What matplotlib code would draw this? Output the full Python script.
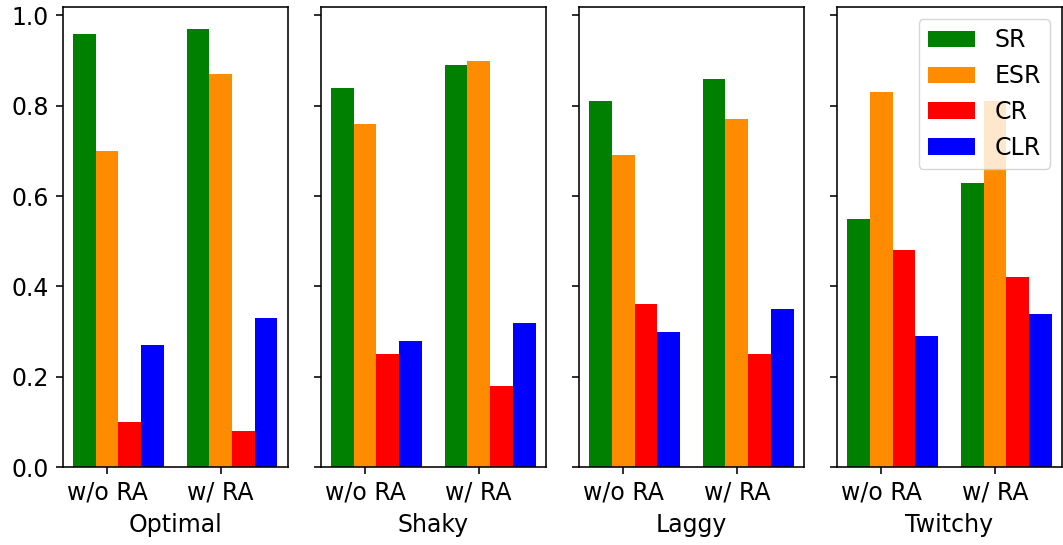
import numpy as np
import matplotlib
matplotlib.use("Agg")
import matplotlib.pyplot as plt

# data
settings = ["Optimal", "Shaky", "Laggy", "Twitchy"]
groups = ["w/o RA", "w/ RA"]
metrics = ["SR", "ESR", "CR", "CLR"]
colors = ["green", "darkorange", "red", "blue"]

sr = [[0.96, 0.97], [0.84, 0.89], [0.81, 0.86], [0.55, 0.63]]
esr = [[0.70, 0.87], [0.76, 0.90], [0.69, 0.77], [0.83, 0.81]]
cr = [[0.10, 0.08], [0.25, 0.18], [0.36, 0.25], [0.48, 0.42]]
clr = [[0.27, 0.33], [0.28, 0.32], [0.30, 0.35], [0.29, 0.34]]
series = [sr, esr, cr, clr]

plt.rcParams['font.size'] = 17
plt.rcParams['axes.linewidth'] = 1.15
plt.rcParams['axes.labelpad'] = 5.8
for a in ('xtick', 'ytick'):
    plt.rcParams[a + '.major.size'] = 5.0
    plt.rcParams[a + '.major.width'] = 1.15
    plt.rcParams[a + '.major.pad'] = 5.0

fig, axes = plt.subplots(1, 4, figsize=(10.63, 5.45), dpi=100, sharey=True)
fig.subplots_adjust(left=0.059, right=0.999, top=0.987, bottom=0.143, wspace=0.147)

x = np.arange(len(groups))
w = 0.2
for k, ax in enumerate(axes):
    for i, (name, col) in enumerate(zip(metrics, colors)):
        ax.bar(x + (i - 1) * w, series[i][k], w, color=col, label=name)
    ax.set_xticks(x)
    ax.set_xticklabels(groups)
    ax.set_xlabel(settings[k])

axes[-1].legend(loc='upper right')
fig.savefig("out.png")
